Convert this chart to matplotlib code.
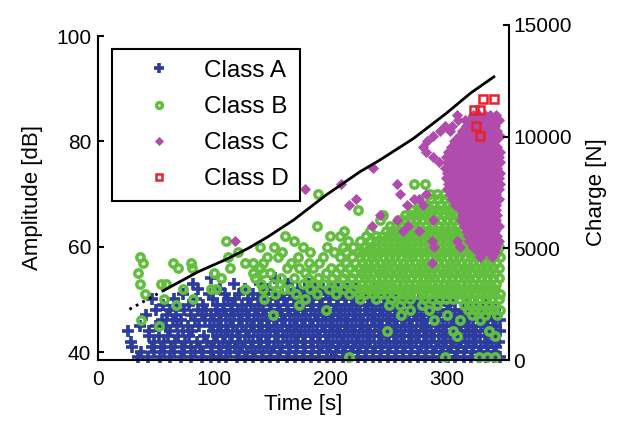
import matplotlib
matplotlib.use('Agg')
import matplotlib.pyplot as plt

plt.rcParams['font.family'] = ['Liberation Sans', 'DejaVu Sans']

# ---------------- data ----------------
# Class A: amplitude [dB] -> list of times [s]
class_a = {
    54: [97, 152],
    53: [82, 117, 139, 163, 181],
    52: [86, 105, 126, 146, 172, 178, 186, 193, 200, 206, 214, 222, 236, 244],
    51: [73, 95, 109, 121, 133, 141, 150, 158, 165, 174, 181, 189, 196, 203, 210, 217, 224, 231, 238, 246, 253, 260],
    50: [46, 65, 84, 99, 112, 118, 129, 137, 145, 153, 160, 168, 176, 184, 191, 199, 206, 213, 220, 227, 234, 241, 248, 255, 262, 269, 276, 283, 290, 297, 304],
    49: [56, 69, 78, 90, 102, 108, 115, 124, 131, 138, 148, 155, 162, 170, 177, 185, 192, 198, 205, 212, 218, 225, 232, 239, 246, 252, 259, 266, 273, 280, 287, 294, 302, 316, 324, 333],
    48: [50, 62, 74, 86, 93, 101, 107, 114, 120, 127, 135, 142, 149, 156, 163, 169, 176, 183, 190, 196, 203, 209, 216, 222, 229, 235, 242, 248, 255, 261, 268, 274, 281, 287, 294, 300, 307, 313, 320, 327, 334, 341],
    47: [41, 59, 67, 80, 89, 97, 104, 110, 117, 124, 130, 137, 144, 151, 158, 165, 172, 179, 186, 193, 199, 206, 212, 219, 225, 232, 238, 245, 251, 258, 264, 271, 277, 284, 290, 297, 303, 310, 316, 323, 330, 337, 343],
    46: [55, 64, 71, 83, 92, 100, 106, 113, 121, 128, 134, 141, 147, 154, 161, 168, 175, 182, 189, 196, 202, 209, 215, 222, 228, 235, 241, 248, 254, 261, 267, 274, 280, 287, 293, 300, 306, 313, 319, 326, 332, 339, 345],
    45: [36, 50, 58, 68, 77, 87, 96, 103, 110, 116, 124, 131, 138, 145, 151, 158, 165, 171, 178, 185, 192, 199, 205, 212, 218, 225, 231, 238, 244, 251, 257, 264, 270, 277, 283, 290, 296, 303, 309, 316, 322, 329, 335, 342],
    44: [26, 44, 62, 73, 81, 99, 106, 112, 119, 127, 134, 141, 148, 155, 162, 168, 174, 181, 188, 195, 202, 208, 215, 221, 228, 234, 241, 247, 254, 260, 267, 273, 280, 286, 293, 299, 306, 312, 319, 325, 332, 338, 345],
    43: [44, 52, 60, 69, 78, 91, 102, 109, 115, 122, 130, 137, 144, 152, 159, 166, 172, 178, 185, 191, 198, 205, 211, 218, 224, 231, 237, 244, 250, 257, 263, 270, 276, 283, 289, 296, 302, 309, 315, 322, 328, 335, 341],
    42: [28, 48, 57, 66, 75, 85, 94, 100, 107, 113, 120, 126, 133, 140, 147, 155, 162, 169, 176, 183, 189, 196, 202, 209, 215, 222, 228, 234, 241, 247, 254, 260, 267, 273, 280, 286, 293, 299, 306, 312, 319, 325, 332, 338, 344],
    41: [29, 46, 54, 63, 72, 80, 88, 97, 104, 111, 118, 124, 131, 138, 145, 151, 158, 165, 171, 178, 185, 192, 199, 206, 212, 219, 225, 231, 238, 244, 251, 257, 264, 270, 277, 283, 290, 296, 303, 309, 316, 322, 329, 335, 342],
    40: [37, 48, 57, 65, 74, 83, 90, 98, 106, 113, 121, 128, 135, 142, 149, 156, 164, 170, 177, 184, 190, 197, 204, 210, 217, 223, 230, 236, 243, 249, 256, 262, 269, 275, 282, 288, 295, 301, 308, 314, 321, 327, 334, 340],
    39: [34, 43, 53, 62, 71, 80, 89, 97, 104, 110, 119, 126, 133, 141, 148, 155, 162, 169, 176, 183, 190, 197, 203, 210, 216, 223, 229, 236, 242, 249, 255, 262, 268, 275, 281, 288, 294, 301, 307, 314, 320, 327, 333, 340, 345],
}

# Class B: amplitude [dB] -> list of times [s]
class_b = {
    72: [271, 281],
    70: [189, 285, 291, 297],
    69: [280, 286, 292, 298, 303],
    68: [276, 282, 288, 294, 300, 305],
    67: [223, 270, 275, 281, 287, 293, 299, 304, 309],
    66: [245, 264, 269, 275, 280, 286, 291, 297, 302, 307],
    65: [242, 258, 263, 268, 273, 278, 284, 289, 295, 300, 305, 310],
    64: [188, 251, 256, 261, 266, 271, 276, 282, 287, 293, 298, 303, 308],
    63: [211, 234, 247, 252, 257, 262, 267, 272, 277, 282, 287, 292, 297, 302, 307, 312],
    62: [161, 199, 208, 230, 239, 244, 249, 254, 259, 264, 269, 274, 279, 284, 289, 294, 299, 304, 309, 314],
    61: [110, 168, 215, 225, 234, 239, 244, 249, 254, 259, 264, 269, 274, 279, 284, 289, 294, 299, 304, 309, 314, 319],
    60: [139, 151, 176, 197, 210, 219, 229, 234, 239, 244, 249, 254, 259, 264, 269, 274, 279, 284, 289, 294, 299, 304, 309, 314, 319, 324, 329, 334, 339, 344],
    59: [120, 158, 182, 203, 213, 224, 228, 233, 238, 243, 248, 253, 258, 263, 268, 273, 278, 283, 288, 293, 298, 303, 308, 313, 318, 323, 328, 333, 338, 343],
    58: [36, 112, 145, 155, 172, 193, 208, 218, 225, 230, 235, 240, 245, 250, 255, 260, 265, 270, 275, 280, 285, 290, 295, 300, 305, 310, 315, 320, 325, 330, 335, 340, 345],
    57: [39, 64, 80, 126, 133, 142, 166, 181, 190, 213, 221, 227, 232, 237, 242, 247, 252, 257, 262, 267, 272, 277, 282, 287, 292, 297, 302, 307, 312, 317, 322, 327, 332, 337, 342],
    56: [69, 81, 113, 139, 162, 173, 185, 200, 208, 216, 224, 229, 234, 239, 244, 249, 254, 259, 264, 269, 274, 279, 284, 289, 294, 299, 304, 309, 314, 319, 324, 329, 334, 339, 344],
    55: [34, 100, 133, 142, 148, 178, 196, 204, 212, 220, 226, 231, 236, 241, 246, 251, 256, 261, 266, 271, 276, 281, 286, 291, 296, 301, 306, 311, 316, 321, 326, 331, 336, 341],
    54: [106, 135, 157, 168, 180, 189, 201, 210, 218, 224, 229, 234, 239, 244, 249, 254, 259, 264, 269, 274, 279, 284, 289, 294, 299, 304, 309, 314, 319, 324, 329, 334, 339, 344],
    53: [36, 54, 58, 140, 150, 156, 176, 186, 194, 206, 214, 221, 227, 232, 237, 242, 247, 252, 257, 262, 267, 272, 277, 282, 287, 292, 297, 302, 307, 312, 317, 322, 327, 332, 337, 342],
    52: [73, 97, 101, 126, 142, 160, 165, 182, 198, 211, 219, 226, 231, 236, 241, 246, 251, 256, 261, 266, 271, 276, 281, 286, 291, 296, 301, 306, 311, 316, 321, 326, 331, 336, 341],
    51: [40, 152, 170, 188, 204, 216, 224, 229, 236, 243, 248, 255, 262, 268, 274, 279, 285, 290, 296, 301, 307, 312, 318, 323, 329, 334, 340, 345],
    50: [57, 82, 143, 178, 225, 239, 252, 261, 268, 280, 287, 293, 299, 305, 311, 316, 322, 327, 333, 338, 344],
    49: [67, 173, 250, 259, 278, 291, 314, 319, 325, 330, 336, 341],
    48: [196, 268, 284, 318, 324, 329, 335, 340, 345],
    47: [150, 260, 300, 321, 332, 343],
    46: [37, 289, 311, 328],
    45: [52],
    44: [248, 305, 336],
    43: [308, 341],
    39: [216, 298, 327, 334, 341],
}

# Class C: amplitude [dB] -> list of times [s]
class_c = {
    85: [308, 322, 327, 332, 337, 342],
    84: [309, 315, 319, 324, 329, 334, 339, 344],
    83: [298, 304, 316, 321, 326, 331, 336, 341],
    82: [294, 302, 313, 318, 323, 328, 333, 338, 343],
    81: [288, 310, 315, 320, 325, 330, 335, 340, 345],
    80: [283, 306, 311, 316, 321, 326, 331, 336, 341],
    79: [279, 303, 308, 313, 318, 323, 328, 333, 338, 343],
    78: [282, 301, 306, 311, 316, 321, 326, 331, 336, 341, 345],
    77: [288, 299, 304, 309, 314, 319, 324, 329, 334, 339, 344],
    76: [293, 300, 305, 310, 315, 320, 325, 330, 335, 340, 345],
    75: [236, 298, 303, 308, 313, 318, 323, 328, 333, 338, 343],
    74: [300, 305, 310, 315, 320, 325, 330, 335, 340, 345],
    73: [299, 304, 309, 314, 319, 324, 329, 334, 339, 344],
    72: [209, 257, 301, 306, 311, 316, 321, 326, 331, 336, 341, 345],
    71: [178, 300, 305, 310, 315, 320, 325, 330, 335, 340, 344],
    70: [259, 282, 302, 307, 312, 317, 322, 327, 332, 337, 342],
    69: [222, 271, 276, 304, 309, 314, 319, 324, 329, 334, 339, 344],
    68: [216, 265, 279, 307, 312, 317, 322, 327, 332, 337, 342],
    67: [312, 317, 322, 327, 332, 337, 342],
    66: [242, 313, 318, 323, 328, 333, 338, 343],
    65: [257, 288, 312, 317, 322, 327, 332, 337, 342],
    64: [235, 266, 314, 319, 324, 329, 334, 339, 344],
    63: [262, 276, 316, 321, 326, 331, 336, 341],
    62: [318, 323, 328, 333, 338, 343],
    61: [118, 287, 308, 319, 324, 329, 334, 339, 344],
    60: [289, 311, 322, 327, 332, 337, 342],
    59: [326, 331, 336, 341],
    58: [328, 338],
    57: [287],
}

# Class D
class_d_time = [331, 340, 323, 328, 325, 328]
class_d_amp = [88, 88, 86, 86, 83, 81]

# Charge curve (right axis)
charge_time = [27, 57, 86, 109, 129, 146, 168, 196, 225, 242, 271, 299, 320, 340]
charge_value = [2270, 3130, 3950, 4480, 5000, 5520, 6270, 7390, 8430, 8950, 9920, 11040, 11950, 12680]

labels = ['Class A', 'Class B', 'Class C', 'Class D']
x_ticks = [0, 100, 200, 300]
amp_ticks = [40, 60, 80, 100]
charge_ticks = [0, 5000, 10000, 15000]

BLUE = '#2c3c9e'
GREEN = '#62bf3e'
MAGENTA = '#b04cab'
RED = '#e8212b'


def flatten(rows):
    ts, amps = [], []
    for amp, times in rows.items():
        ts.extend(times)
        amps.extend([amp] * len(times))
    return ts, amps


a_t, a_a = flatten(class_a)
b_t, b_a = flatten(class_b)
c_t, c_a = flatten(class_c)

W, H = 619, 429
fig = plt.figure(figsize=(W / 100, H / 100), dpi=100)
x0, x1 = 98, 509
ax1 = fig.add_axes([x0 / W, (H - 360) / H, (x1 - x0) / W, (360 - 36) / H])
ax2 = fig.add_axes([x0 / W, (H - 360) / H, (x1 - x0) / W, (360 - 25) / H])
ax2.set_facecolor('none')

la, = ax1.plot(a_t, a_a, ls='none', marker='+', ms=9.0, mew=2.6, color=BLUE, clip_on=False)
lb, = ax1.plot(b_t, b_a, ls='none', marker='o', ms=5.3, mew=2.5, mfc='none', mec=GREEN, clip_on=False)
lc, = ax1.plot(c_t, c_a, ls='none', marker='D', ms=5.5, mew=0.6, color=MAGENTA, clip_on=False)
ld, = ax1.plot(class_d_time, class_d_amp, ls='none', marker='s', ms=5.5, mew=1.8, mfc='none', mec=RED, clip_on=False)

ax2.plot(charge_time[:2], charge_value[:2], ls=':', lw=2.0, color='black')
ax2.plot(charge_time[1:], charge_value[1:], ls='-', lw=2.0, color='black')

xlim = (0, 353)
ax1.set_xlim(*xlim)
ax2.set_xlim(*xlim)
ax1.set_ylim(38.5, 100)
ax2.set_ylim(0, 15000)

for s in ['top', 'right']:
    ax1.spines[s].set_visible(False)
for s in ['top', 'left', 'bottom']:
    ax2.spines[s].set_visible(False)
for s in ['left', 'bottom']:
    ax1.spines[s].set_linewidth(1.5)
ax2.spines['right'].set_linewidth(1.5)

ax1.set_xticks(x_ticks)
ax1.set_yticks(amp_ticks)
ax1.tick_params(axis='both', direction='in', length=4, width=1.5, labelsize=15)
ax1.tick_params(axis='x', pad=7)
ax1.tick_params(axis='y', pad=5)

ax2.set_yticks(charge_ticks)
ax2.yaxis.tick_right()
ax2.tick_params(axis='y', direction='in', length=4, width=1.5, labelsize=15, pad=3)
ax2.tick_params(axis='x', bottom=False, labelbottom=False)

ax1.set_xlabel('Time [s]', fontsize=16, labelpad=4)
ax1.set_ylabel('Amplitude [dB]', fontsize=16, labelpad=9)
ax2.set_ylabel('Charge [N]', fontsize=16, labelpad=10)
ax2.yaxis.set_label_position('right')

leg = ax2.legend([la, lb, lc, ld], labels, loc='upper left',
                 bbox_to_anchor=((112 - x0) / (x1 - x0), (360 - 49) / (360 - 25)),
                 borderaxespad=0, fontsize=17.5, numpoints=1, handlelength=3.0,
                 handletextpad=0.35, borderpad=0.45, labelspacing=0.58,
                 markerscale=0.8, fancybox=False, framealpha=1, edgecolor='black')
leg.get_frame().set_linewidth(1.5)

fig.savefig('out.png', dpi=100, facecolor='white')
